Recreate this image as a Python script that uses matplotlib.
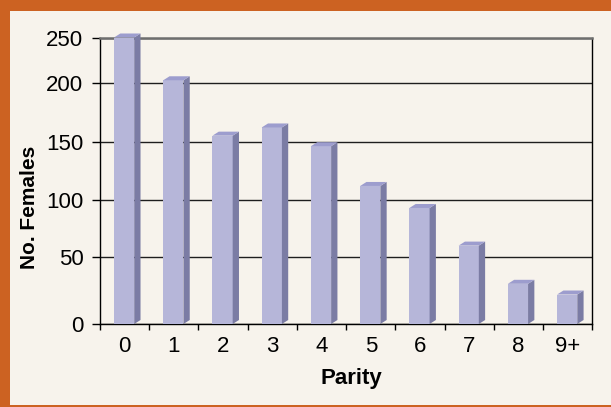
import matplotlib
matplotlib.use("Agg")
import matplotlib.pyplot as plt
import matplotlib.patches as mpatches
import numpy as np

# data
parity = ["0", "1", "2", "3", "4", "5", "6", "7", "8", "9+"]
females = [250, 203, 155, 162, 146, 112, 93, 60, 30, 22]
y_ticks = [0, 50, 100, 150, 200, 250]

# the reference's value axis is not evenly spaced; pixel height of each gridline
grid_px = [0, 67, 124, 182.5, 241, 286.5]

BG = "#F7F3EC"
ORANGE = "#CC6222"
FRONT = "#B6B6D9"
SIDE = "#7B7CA4"
TOP = "#9D9DCE"


def fwd(v):
    v = np.asarray(v, dtype=float)
    out = np.interp(v, y_ticks, grid_px)
    hi_slope = (grid_px[-1] - grid_px[-2]) / (y_ticks[-1] - y_ticks[-2])
    lo_slope = (grid_px[1] - grid_px[0]) / (y_ticks[1] - y_ticks[0])
    out = np.where(v > y_ticks[-1], grid_px[-1] + (v - y_ticks[-1]) * hi_slope, out)
    out = np.where(v < y_ticks[0], v * lo_slope, out)
    return out


def inv(p):
    p = np.asarray(p, dtype=float)
    out = np.interp(p, grid_px, y_ticks)
    hi_slope = (y_ticks[-1] - y_ticks[-2]) / (grid_px[-1] - grid_px[-2])
    lo_slope = (y_ticks[1] - y_ticks[0]) / (grid_px[1] - grid_px[0])
    out = np.where(p > grid_px[-1], y_ticks[-1] + (p - grid_px[-1]) * hi_slope, out)
    out = np.where(p < grid_px[0], p * lo_slope, out)
    return out


plt.rcParams.update({
    "font.family": ["Liberation Sans Narrow", "Liberation Sans", "DejaVu Sans"],
    "font.size": 16,
})

fig = plt.figure(figsize=(6.11, 4.07), dpi=100, facecolor=BG)

# orange frame (top, left, bottom)
fig.patches.append(mpatches.Rectangle((0, 1 - 10.5 / 407), 1, 10.5 / 407,
                                      transform=fig.transFigure, fc=ORANGE, ec="none"))
fig.patches.append(mpatches.Rectangle((0, 0), 10 / 611, 1,
                                      transform=fig.transFigure, fc=ORANGE, ec="none"))
fig.patches.append(mpatches.Rectangle((0, 0), 1, 2.5 / 407,
                                      transform=fig.transFigure, fc=ORANGE, ec="none"))

ax = fig.add_axes([100 / 611, (407 - 324) / 407, 492.3 / 611, 286.5 / 407])
ax.set_facecolor(BG)
ax.set_yscale("function", functions=(fwd, inv))
ax.set_xlim(-0.5, len(parity) - 0.5)
ax.set_ylim(0, 250)

x = np.arange(len(parity))
w = 0.41
dx = 0.128   # depth in category units
dpx = 4      # depth rise in pixels

ax.bar(x - 0.01, females, width=w, color=FRONT, edgecolor="none", zorder=3)
for xi, h in zip(x - 0.01, females):
    x0, x1 = xi - w / 2, xi + w / 2
    hb = float(inv(dpx))
    ht = float(inv(fwd(h) + dpx))
    side = mpatches.Polygon([(x1, 0), (x1 + dx, hb), (x1 + dx, ht), (x1, h)],
                            closed=True, fc=SIDE, ec="none", zorder=3, clip_on=False)
    top = mpatches.Polygon([(x0, h), (x0 + dx, ht), (x1 + dx, ht), (x1, h)],
                           closed=True, fc=TOP, ec="none", zorder=3, clip_on=False)
    ax.add_patch(side)
    ax.add_patch(top)

# axes styling
ax.set_yticks(y_ticks)
ax.set_yticklabels([str(t) for t in y_ticks])
ax.yaxis.grid(True, color="#1e1e1e", lw=1.0)
ax.set_axisbelow(True)
ax.tick_params(axis="y", length=6, width=1, pad=6, color="black", labelsize=16)

ax.set_xticks(np.arange(len(parity) + 1) - 0.5)
ax.set_xticklabels([])
ax.set_xticks(x, minor=True)
ax.set_xticklabels(parity, minor=True)
ax.tick_params(axis="x", which="major", length=4, width=1, color="black")
ax.tick_params(axis="x", which="minor", length=0, pad=9, labelsize=16)

for s in ["left", "bottom", "right"]:
    ax.spines[s].set_color("black")
    ax.spines[s].set_linewidth(1.0)
ax.spines["top"].set_color("#6e6e6e")
ax.spines["top"].set_linewidth(1.8)

ax.set_ylabel("No. Females", fontsize=15, fontweight="bold",
              family=["Liberation Sans", "DejaVu Sans"], va="center", ha="center")
ax.yaxis.set_label_coords(-0.144, 0.408)
ax.set_xlabel("Parity", fontsize=16, fontweight="bold",
              family=["Liberation Sans", "DejaVu Sans"], va="center", ha="center")
ax.xaxis.set_label_coords(0.51, -0.19)

fig.savefig("out.png", dpi=100, facecolor=BG)
